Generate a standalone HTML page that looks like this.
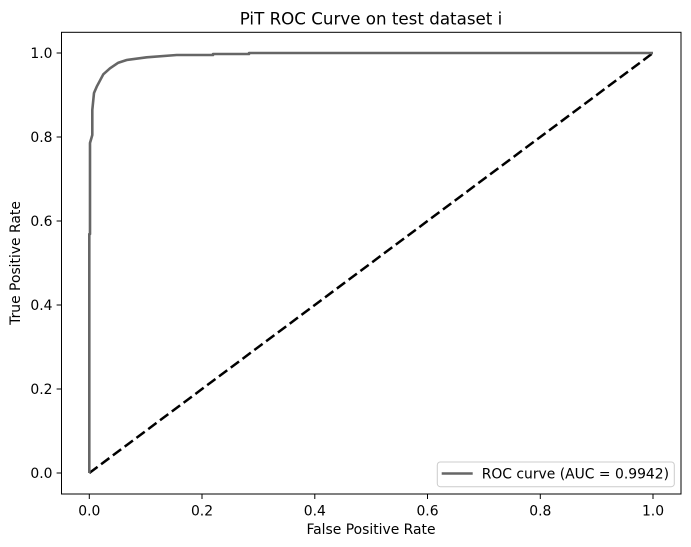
<!DOCTYPE html>
<html><head><meta charset="utf-8"><style>
html,body{margin:0;padding:0;background:#fff;}
svg{display:block;}
text{font-family:"DejaVu Sans","Liberation Sans",sans-serif;fill:#000;}
</style></head><body>
<svg width="691" height="547" viewBox="0 0 691 547" xmlns="http://www.w3.org/2000/svg">
<rect width="691" height="547" fill="#fff"/>
<!-- diagonal -->
<line x1="89.3" y1="473" x2="653" y2="53" stroke="#000" stroke-width="2.5" stroke-dasharray="10.3,4.4"/>
<!-- ROC curve -->
<path d="M89.3,473 L89.3,234 L90,234 L90,143 L92.3,135 L92.3,110 L94,93 L96.7,86.7 L103.3,74.3 L110,68.3 L118.3,62.7 L126.7,60 L146.7,57.3 L176.7,55 L213,55 L213,54 L249,54 L249,53 L653,53" fill="none" stroke="#666" stroke-width="2.6" stroke-linejoin="round"/>
<!-- axes frame -->
<rect x="61.5" y="32.3" width="619.5" height="461.7" fill="none" stroke="#000" stroke-width="1"/>
<!-- x ticks -->
<g stroke="#000" stroke-width="1">
<line x1="89.3" y1="494" x2="89.3" y2="499"/>
<line x1="202" y1="494" x2="202" y2="499"/>
<line x1="314.8" y1="494" x2="314.8" y2="499"/>
<line x1="427.5" y1="494" x2="427.5" y2="499"/>
<line x1="540.3" y1="494" x2="540.3" y2="499"/>
<line x1="653" y1="494" x2="653" y2="499"/>
<line x1="56.6" y1="473" x2="61.5" y2="473"/>
<line x1="56.6" y1="389" x2="61.5" y2="389"/>
<line x1="56.6" y1="305" x2="61.5" y2="305"/>
<line x1="56.6" y1="221" x2="61.5" y2="221"/>
<line x1="56.6" y1="137" x2="61.5" y2="137"/>
<line x1="56.6" y1="53" x2="61.5" y2="53"/>
</g>
<g font-size="13.9" text-anchor="middle">
<text x="89.3" y="515.5">0.0</text>
<text x="202" y="515.5">0.2</text>
<text x="314.8" y="515.5">0.4</text>
<text x="427.5" y="515.5">0.6</text>
<text x="540.3" y="515.5">0.8</text>
<text x="653" y="515.5">1.0</text>
</g>
<g font-size="13.9" text-anchor="end">
<text x="52.5" y="478">0.0</text>
<text x="52.5" y="394">0.2</text>
<text x="52.5" y="310">0.4</text>
<text x="52.5" y="226">0.6</text>
<text x="52.5" y="142">0.8</text>
<text x="52.5" y="58">1.0</text>
</g>
<text x="371" y="534" font-size="13.9" text-anchor="middle">False Positive Rate</text>
<text transform="translate(20,263) rotate(-90)" font-size="13.9" text-anchor="middle">True Positive Rate</text>
<text x="371" y="24.5" font-size="16.7" text-anchor="middle">PiT ROC Curve on test dataset i</text>
<!-- legend -->
<rect x="437.3" y="462" width="237" height="24.7" rx="3" ry="3" fill="#fff" fill-opacity="0.8" stroke="#cccccc" stroke-width="1"/>
<line x1="441.7" y1="473.5" x2="472.7" y2="473.5" stroke="#666" stroke-width="2.6"/>
<text x="481.7" y="478.5" font-size="13.9">ROC curve (AUC = 0.9942)</text>
</svg>
</body></html>
